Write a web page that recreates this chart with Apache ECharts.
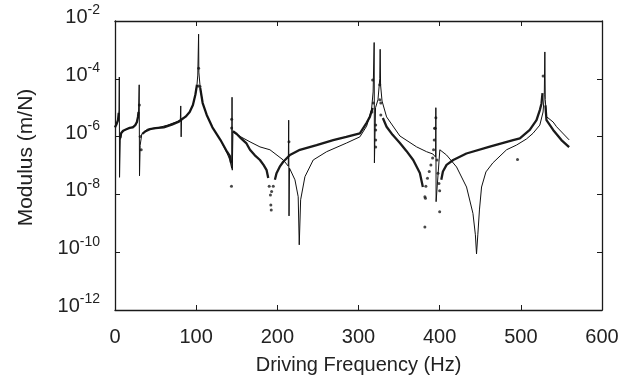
<!DOCTYPE html>
<html><head><meta charset="utf-8">
<script src="https://cdn.jsdelivr.net/npm/echarts@6/dist/echarts.min.js"></script>
<style>html,body{margin:0;padding:0;background:#fff}#c{width:625px;height:385px}</style>
</head><body><div id="c"></div>
<script>
// ---- Model FRF (thin line) ----
const modelFreq = [0,2,4,5,5.3,5.6,6.5,8,12,18,24,27,29,29.8,30.2,31,33,40,55,65,75,80.5,81,81.5,82,87,92,96,99,101,102,103,103.3,105,108,113,120,130,138,141.5,143.8,144.2,144.5,145.3,155,166.3,178.6,190.9,207.3,213.5,214,214.4,215,221.7,225.7,227,228.7,234,244.2,260.7,285.3,301.7,310,316,318,319.3,319.6,321,324,326.2,326.7,327.2,329,334.6,351,371.6,383.9,391.6,395,395.3,395.6,400.2,408.5,420.8,433.1,441,444,445.4,447,449,451.6,457,465.5,482.4,494.7,507,515,523.4,527.4,528.9,529.6,530.1,531.6,539.8,544,559.5];
const modelVal = [2.1e-6,2.75e-6,3.7e-6,8.3e-6,1.15e-4,3.9e-8,7.6e-7,1.3e-6,1.7e-6,2.0e-6,2.3e-6,3.0e-6,6.6e-6,6.2e-5,4.4e-8,5.0e-7,1.23e-6,1.8e-6,2.1e-6,2.5e-6,3.2e-6,3.7e-6,1.15e-5,9.8e-7,4.1e-6,4.9e-6,7.1e-6,1.23e-5,2.8e-5,6.2e-5,1.35e-4,3.5e-3,1.7e-4,4.8e-5,1.45e-5,5.6e-6,2.1e-6,7.6e-7,2.7e-7,1.55e-7,8.0e-8,2.3e-5,6.9e-8,1.45e-6,9.8e-7,6.6e-7,4.4e-7,3.5e-7,1.55e-7,9.5e-8,3.7e-6,1.8e-9,8.1e-8,3.2e-8,8.3e-9,1.8e-10,6.5e-9,4.1e-8,1.55e-7,3.0e-7,6.0e-7,9.8e-7,2.3e-6,8.3e-6,3.5e-5,1.8e-3,1.23e-7,1.0e-5,1.9e-5,1.0e-4,1.05e-3,6.2e-5,1.7e-5,4.8e-6,1.05e-6,4.4e-7,3.0e-7,2.5e-7,1.95e-7,1.0e-5,5.6e-9,3.5e-7,2.3e-7,8.9e-8,1.8e-8,2.2e-9,4.0e-10,8.7e-11,4.0e-10,2.9e-9,1.8e-8,6.0e-8,1.23e-7,3.5e-7,5.1e-7,8.3e-7,1.3e-6,2.5e-6,7.1e-6,2.8e-5,8.5e-4,1.9e-5,4.9e-6,3.2e-6,2.2e-6,7.7e-7];

// ---- Measured (dense dots, null = gap) ----
const measFreq = [0,2,3.7,4.6,null,
  6.5,7.5,10,14,18,22,25,27,28.3,29,null,
  33.5,37,43,50,60,70,78,82,87,92,96,99,101,null,
  105,108,113,120,130,138,141.6,143,null,
  145.3,150,155,162,166.3,172,178.6,183,186.8,188.8,null,
  197,199,203,207.3,215.5,227.8,248.4,268.8,285,301.7,310,314,317.4,null,
  330,334.6,342,351,359,367.4,375.6,379.3,null,
  402,404,408.5,416.7,433,461.8,490.5,498.8,511,519.3,523.4,525.5,526.7,null,
  530.3,531.6,539.8,550,559.5];
const measVal = [2.1e-6,2.75e-6,3.7e-6,6.6e-6,null,
  8.9e-7,1.3e-6,1.6e-6,1.8e-6,2.0e-6,2.1e-6,2.5e-6,3.2e-6,4.8e-6,7.1e-6,null,
  1.23e-6,1.5e-6,1.8e-6,1.95e-6,2.1e-6,2.6e-6,3.2e-6,3.9e-6,4.9e-6,7.1e-6,1.23e-5,2.8e-5,6.2e-5,null,
  4.8e-5,1.45e-5,5.6e-6,2.1e-6,7.6e-7,3.0e-7,2.1e-7,1.23e-7,null,
  1.55e-6,1.23e-6,8.9e-7,5.8e-7,3.5e-7,2.3e-7,1.55e-7,1.05e-7,6.9e-8,3.7e-8,null,
  3.2e-8,5.4e-8,9.1e-8,1.35e-7,2.3e-7,3.5e-7,5.1e-7,7.6e-7,9.8e-7,1.3e-6,3.0e-6,4.8e-6,9.8e-6,null,
  4.4e-6,2.2e-6,1.15e-6,6.0e-7,3.2e-7,1.55e-7,5.5e-8,1.8e-8,null,
  3.2e-8,6.2e-8,1.05e-7,1.55e-7,2.6e-7,4.5e-7,7.6e-7,8.7e-7,1.7e-6,3.7e-6,8.3e-6,1.4e-5,3.2e-5,null,
  1.2e-5,3.7e-6,1.7e-6,7.6e-7,4.3e-7];

// ---- Measured (isolated dots) ----
const dotFreq = [30,31,32.3,102.7,103,104.7,143.7,143.7,143.5,190,191.5,193,192,192.5,195,214.3,
  317.4,318.2,316.5,321.2,321.2,321.2,321.2,326.2,326.2,327.5,327.5,
  381.8,382.5,381.8,383,385,387.2,389.2,391.3,392.5,393.3,393.7,394.5,395.3,
  396.7,397.9,399.1,400,400,495.9,527.5];
const dotVal = [1.23e-5,1.0e-6,3.5e-7,5.6e-5,2.3e-4,5.4e-5,4.0e-6,2.0e-6,1.9e-8,1.9e-8,9.5e-9,1.26e-8,4.3e-9,2.9e-9,1.9e-8,6.6e-7,
  9.1e-5,1.45e-5,7.1e-6,2.5e-6,1.7e-6,7.6e-7,4.4e-7,6.2e-5,1.9e-5,1.45e-5,5.6e-6,
  8.3e-9,7.4e-9,7.4e-10,1.9e-8,3.6e-8,6.2e-8,1.05e-7,1.8e-7,3.5e-7,7.6e-7,1.95e-6,1.95e-6,4.5e-6,
  1.55e-7,5.4e-8,2.4e-8,1.35e-8,2.5e-9,1.6e-7,1.26e-4];

// ---- Axes ----
const xMin = 0, xMax = 600, xStep = 100;
const yMinExp = -12, yMaxExp = -2, yStepExp = 2;
const xTitle = 'Driving Frequency (Hz)';
const yTitle = 'Modulus (m/N)';

const FONT = 'Liberation Sans, Arial, sans-serif';
const INK = '#1a1a1a';

const pairs = (fs, vs) => fs.map((f, i) => (f === null || vs[i] === null) ? ['-', '-'] : [f, vs[i]]);

const baseX = {
  type: 'value', min: xMin, max: xMax, interval: xStep,
  axisLine: { show: true, onZero: false, lineStyle: { color: INK, width: 1.3 } },
  axisTick: { show: true, inside: true, length: 5, lineStyle: { color: INK, width: 1 } },
  splitLine: { show: false }
};
const baseY = {
  type: 'log', logBase: 10, min: Math.pow(10, yMinExp), max: Math.pow(10, yMaxExp), interval: yStepExp,
  axisLine: { show: true, onZero: false, lineStyle: { color: INK, width: 1.3 } },
  axisTick: { show: true, inside: true, length: 5, lineStyle: { color: INK, width: 1 } },
  splitLine: { show: false }, minorTick: { show: false }
};

const chart = echarts.init(document.getElementById('c'), null, { renderer: 'canvas' });
chart.setOption({
  animation: false,
  backgroundColor: '#fff',
  grid: { left: 115, right: 23, top: 21, bottom: 75 },
  xAxis: [
    Object.assign({}, baseX, {
      position: 'bottom',
      name: xTitle, nameLocation: 'middle', nameGap: 45,
      nameTextStyle: { fontFamily: FONT, fontSize: 20, color: '#222' },
      axisLabel: { show: true, margin: 17, fontFamily: FONT, fontSize: 20, color: '#222' }
    }),
    Object.assign({}, baseX, { position: 'top', axisLabel: { show: false } })
  ],
  yAxis: [
    Object.assign({}, baseY, {
      position: 'left',
      name: yTitle, nameLocation: 'middle', nameGap: 78,
      nameTextStyle: { fontFamily: FONT, fontSize: 21, color: '#222', padding: [0, 0, 0, 16] },
      axisLabel: {
        show: true, margin: 15, padding: [0, 0, 7, 0],
        formatter: v => '{b|10}{s|' + Math.round(Math.log10(v)) + '}',
        rich: {
          b: { fontFamily: FONT, fontSize: 20, color: '#222' },
          s: { fontFamily: FONT, fontSize: 14, color: '#222', padding: [0, 0, 14, 0] }
        }
      }
    }),
    Object.assign({}, baseY, { position: 'right', axisLabel: { show: false } })
  ],
  series: [
    {
      type: 'line', name: 'measured', data: pairs(measFreq, measVal),
      showSymbol: false, connectNulls: false, clip: true,
      lineStyle: { color: INK, width: 2.3 }, z: 2
    },
    {
      type: 'scatter', name: 'measured points', data: pairs(dotFreq, dotVal),
      symbol: 'circle', symbolSize: 3, itemStyle: { color: INK }, clip: true, z: 2
    },
    {
      type: 'line', name: 'model', data: pairs(modelFreq, modelVal),
      showSymbol: false, clip: true,
      lineStyle: { color: '#111', width: 1 }, z: 3
    }
  ]
});
</script>
</body></html>
